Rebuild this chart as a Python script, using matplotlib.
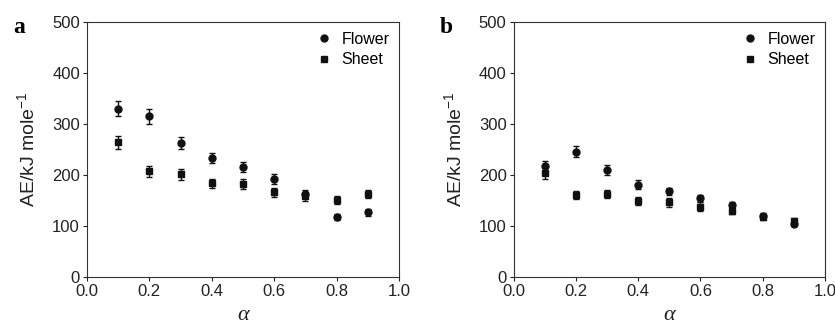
import matplotlib
matplotlib.use("Agg")
import matplotlib.pyplot as plt
from matplotlib.lines import Line2D

plt.rcParams['font.family'] = ['Liberation Sans', 'DejaVu Sans']
plt.rcParams['mathtext.fontset'] = 'custom'
plt.rcParams['mathtext.rm'] = 'Liberation Sans'
plt.rcParams['mathtext.it'] = 'Liberation Sans:italic'

# Данные
alpha = [0.1, 0.2, 0.3, 0.4, 0.5, 0.6, 0.7, 0.8, 0.9]

flower_a = [330, 315, 263, 233, 216, 192, 162, 117, 127]
flower_a_err = [15, 15, 12, 10, 10, 10, 8, 6, 7]
sheet_a = [264, 207, 201, 184, 182, 166, 158, 151, 163]
sheet_a_err = [13, 10, 10, 9, 10, 9, 9, 8, 8]

flower_b = [218, 246, 210, 181, 168, 154, 141, 119, 104]
flower_b_err = [10, 11, 10, 9, 7, 7, 6, 6, 5]
sheet_b = [204, 161, 163, 149, 146, 138, 130, 118, 110]
sheet_b_err = [12, 8, 8, 8, 9, 8, 7, 6, 6]

x_ticks = [0.0, 0.2, 0.4, 0.6, 0.8, 1.0]
y_ticks = [0, 100, 200, 300, 400, 500]

fig = plt.figure(figsize=(8.35, 3.25), dpi=100)
ax_a = fig.add_axes([0.104, 0.148, 0.374, 0.784])
ax_b = fig.add_axes([0.615, 0.148, 0.373, 0.784])

panels = [
    (ax_a, 'a', flower_a, flower_a_err, sheet_a, sheet_a_err),
    (ax_b, 'b', flower_b, flower_b_err, sheet_b, sheet_b_err),
]

col = '#111111'
for ax, label, fl, fl_err, sh, sh_err in panels:
    ax.errorbar(alpha, fl, yerr=fl_err, fmt='o', color=col, ms=5,
                elinewidth=1, capsize=2, capthick=1)
    ax.errorbar(alpha, sh, yerr=sh_err, fmt='s', color=col, ms=5,
                elinewidth=1, capsize=2, capthick=1)
    ax.set_xlim(0, 1)
    ax.set_ylim(0, 500)
    ax.set_xticks(x_ticks)
    ax.set_yticks(y_ticks)
    ax.set_xticklabels([f'{v:.1f}' for v in x_ticks])
    ax.tick_params(direction='out', length=3, width=0.8, labelsize=12,
                   top=False, right=False, colors='#222222', pad=2)
    for s in ax.spines.values():
        s.set_linewidth(0.8)
        s.set_color('#333333')
    ax.set_ylabel('AE/kJ mole$^{-1}$', fontsize=14, color='#222222', labelpad=10)
    ax.set_xlabel('α', fontsize=16, family='Liberation Serif', style='italic',
                  color='#222222', labelpad=5)
    handles = [Line2D([], [], ls='none', marker='o', color=col, ms=5),
               Line2D([], [], ls='none', marker='s', color=col, ms=5)]
    ax.legend(handles, ['Flower', 'Sheet'], loc='upper right', frameon=False,
              fontsize=11.5, handletextpad=0.5, handlelength=1.2,
              borderaxespad=0.2, labelspacing=0.35)
    fig.text(ax.get_position().x0 - 0.088, 0.915, label, fontsize=17,
             fontweight='bold', family='Liberation Serif', va='center')

fig.savefig('out.png', dpi=100)
